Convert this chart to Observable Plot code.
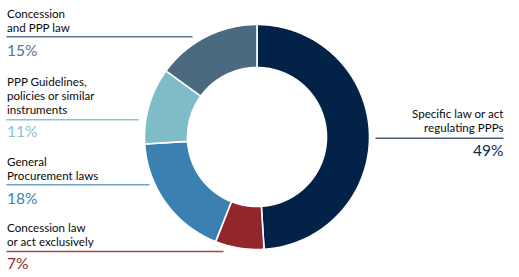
<!DOCTYPE html>
<html><head><meta charset="utf-8">
<script src="https://cdn.jsdelivr.net/npm/d3@7"></script>
<script src="https://cdn.jsdelivr.net/npm/@observablehq/plot@0.6"></script>
<style>body{margin:0;background:#fff}svg{display:block}</style>
</head><body><div id="chart"></div>
<script>
// ---- data ----
const categories = [
  "Specific law or act\nregulating PPPs",
  "Concession law\nor act exclusively",
  "General\nProcurement laws",
  "PPP Guidelines,\npolicies or similar\ninstruments",
  "Concession\nand PPP law"
];
const shares = [49, 7, 18, 11, 15];
const shareLabels = ["49%", "7%", "18%", "11%", "15%"];
const sliceColors = ["#022248", "#93252c", "#3a81b1", "#80bbc8", "#4b6a80"];
const lineColors = ["#4d5d74", "#a0474c", "#6fa3c9", "#8cc2cd", "#5d768a"];
const pctColors = ["#0f2a4c", "#93262c", "#3f83b6", "#8cc1cd", "#587489"];

// ---- layout (pixels) ----
const W = 519, H = 277, cx = 256.5, cy = 136.5, R = 112.5, r = 69.5;
const labelLayout = [
  {tx: 503, anchor: "end",   nameY: 131.5, lineY: 137.7, x0: 375, x1: 503, pctY: 155},
  {tx: 6.5, anchor: "start", nameY: 245.5, lineY: 251,   x0: 6,   x1: 223, pctY: 268.5},
  {tx: 6.5, anchor: "start", nameY: 179.5, lineY: 184.3, x0: 6,   x1: 149, pctY: 203.5},
  {tx: 6.5, anchor: "start", nameY: 113.5, lineY: 119.3, x0: 6,   x1: 138, pctY: 136.5},
  {tx: 6.5, anchor: "start", nameY: 31.5,  lineY: 36.3,  x0: 6,   x1: 192, pctY: 55}
];

// ---- arcs via d3.pie ----
const pie = d3.pie().sort(null).value(d => d)(shares);
const arcPts = [];
pie.forEach((p, i) => {
  const n = Math.max(8, Math.ceil((p.endAngle - p.startAngle) / 0.01));
  for (let k = 0; k <= n; k++) {
    const a = p.startAngle + (p.endAngle - p.startAngle) * k / n;
    arcPts.push({cat: categories[i], x: R * Math.sin(a), y: -R * Math.cos(a)});
  }
  for (let k = n; k >= 0; k--) {
    const a = p.startAngle + (p.endAngle - p.startAngle) * k / n;
    arcPts.push({cat: categories[i], x: r * Math.sin(a), y: -r * Math.cos(a)});
  }
});

const rows = categories.map((c, i) => ({
  cat: c, pct: shareLabels[i], lc: lineColors[i], pc: pctColors[i], ...labelLayout[i],
  X: labelLayout[i].tx - cx, NY: labelLayout[i].nameY - cy, LY: labelLayout[i].lineY - cy,
  X0: labelLayout[i].x0 - cx, X1: labelLayout[i].x1 - cx, PY: labelLayout[i].pctY - cy
}));

const font = "Lato, 'Open Sans', sans-serif";
const fs = 11.6;
const chart = Plot.plot({
  width: W, height: H,
  margin: 0,
  style: {background: "#fff", fontFamily: font},
  x: {domain: [-cx, W - cx], range: [0, W], axis: null},
  y: {domain: [-cy, H - cy], range: [0, H], axis: null},
  color: {domain: categories, range: sliceColors},
  marks: [
    Plot.line(arcPts, {x: "x", y: "y", z: "cat", fill: "cat", stroke: "#fff", strokeWidth: 1.6, curve: "linear-closed", strokeLinejoin: "round"}),
    Plot.link(rows, {x1: "X0", x2: "X1", y1: "LY", y2: "LY", stroke: d => d.lc, strokeWidth: 1.6}),
    ...rows.map(d => Plot.text([d], {x: "X", y: "NY", text: "cat", textAnchor: d.anchor, lineAnchor: "bottom", lineHeight: 14.2 / fs, fontSize: fs, fill: "#0a0a0a"})),
    ...rows.map(d => Plot.text([d], {x: "X", y: "PY", text: "pct", textAnchor: d.anchor, lineAnchor: "bottom", fontSize: 15.5, fill: d.pc}))
  ]
});
document.getElementById("chart").appendChild(chart);
</script>
</body></html>
